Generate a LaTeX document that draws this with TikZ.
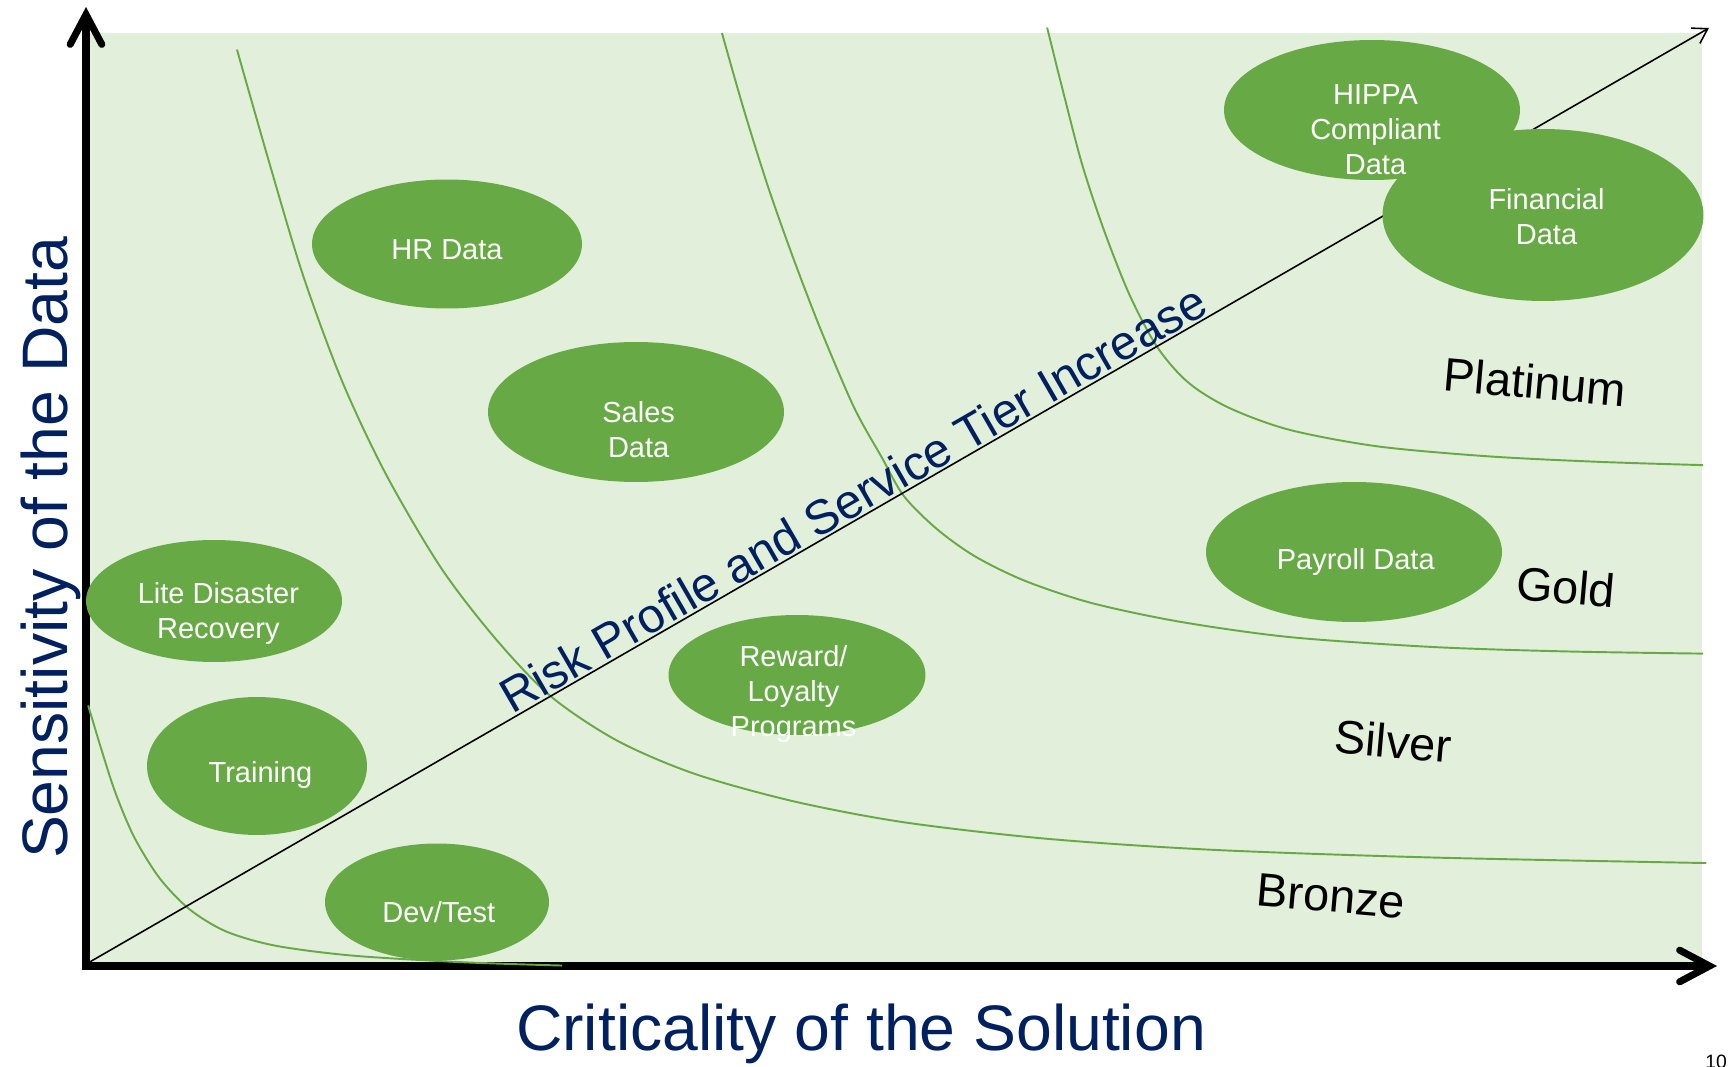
\documentclass[tikz,border=0pt]{standalone}
\usepackage{fontspec}
\setmainfont{Liberation Sans}
\usetikzlibrary{arrows.meta,shapes.geometric}

\definecolor{panelgreen}{RGB}{226,239,218}
\definecolor{blobgreen}{RGB}{103,170,69}
\definecolor{navy}{RGB}{0,32,96}

\begin{document}
\begin{tikzpicture}[x=0.02cm,y=-0.02cm,
  blob/.style={ellipse, fill=blobgreen, inner sep=0pt},
  blobtext/.style={text=white, font=\fontsize{16.5}{20}\selectfont, align=center, inner sep=0pt},
  tierline/.style={blobgreen, line width=1.1pt},
  axis/.style={line width=4pt, -{Straight Barb[length=17pt,width=18pt,line cap=round]}},
  tier/.style={font=\fontsize{26.7}{30}\selectfont, rotate=-5},
  axislabel/.style={text=navy, font=\fontsize{36.6}{40}\selectfont}]

\useasboundingbox (0,0) rectangle (1729,1067);
\fill[panelgreen] (88,33) rectangle (1702,962);

% axes
\coordinate (yfoot) at (86,970);
\coordinate (ytip) at (86,7);
\coordinate (xfoot) at (82,966);
\coordinate (xtip) at (1717,966);
\draw[axis] (yfoot) -- (ytip);
\draw[axis] (xfoot) -- (xtip);

% tier boundaries
\begin{scope}[x=0.022054cm,y=-0.022054cm]
\draw[tierline] plot[smooth] coordinates {(80,640) (92,680) (105,720) (122,760) (145,797) (172,825) (205,845) (250,858) (320,867) (420,873) (510,876)};
\draw[tierline] plot[smooth] coordinates {(215,45) (245,150) (275,250) (310,345) (350,430) (400,515) (450,580) (500,632) (560,672) (630,702) (720,727) (820,746) (950,761) (1100,771) (1300,778) (1548,783)};
\draw[tierline] plot[smooth] coordinates {(655,30) (675,100) (697,170) (720,235) (745,300) (775,370) (800,415) (820,450) (850,480) (885,505) (930,527) (990,547) (1070,564) (1170,578) (1300,587) (1420,591) (1545,593)};
\draw[tierline] plot[smooth] coordinates {(950,25) (965,85) (982,150) (1002,210) (1025,268) (1050,315) (1078,347) (1115,370) (1170,390) (1250,405) (1350,414) (1450,419) (1545,422)};
\end{scope}

% risk diagonal
\coordinate (o) at (88,963);
\coordinate (far) at (1709,28);
\draw[line width=0.9pt, -{Straight Barb[length=8pt,width=10pt]}] (o) -- node[pos=0.478, sloped, above, inner sep=1pt, text=navy, font=\fontsize{27.5}{30}\selectfont] {Risk Profile and Service Tier Increase} (far);

% data sets
\node[blob, minimum width=5.4cm, minimum height=2.58cm, label={[blobtext, yshift=-3pt]center:HR Data}] (hr) at (447,244) {};
\node[blob, minimum width=5.92cm, minimum height=2.8cm, label={[blobtext, yshift=-10pt, xshift=1.5pt]center:Sales\\Data}] (sales) at (636,412) {};
\node[blob, minimum width=5.12cm, minimum height=2.44cm, label={[blobtext, yshift=-7pt, xshift=2.5pt]center:Lite Disaster\\Recovery}] (lite) at (214,601) {};
\node[blob, minimum width=4.4cm, minimum height=2.76cm, label={[blobtext, yshift=-5pt, xshift=2pt]center:Training}] (train) at (257,766) {};
\node[blob, minimum width=4.48cm, minimum height=2.34cm, label={[blobtext, yshift=-6pt, xshift=1pt]center:Dev/Test}] (dev) at (437,902) {};
\node[blob, minimum width=5.14cm, minimum height=2.4cm, label={[blobtext, yshift=-11pt, xshift=-2pt]center:Reward/\\Loyalty\\Programs}] (reward) at (797,675) {};
\node[blob, minimum width=5.92cm, minimum height=2.8cm] (hippa) at (1372,110) {};
\node[blob, minimum width=6.42cm, minimum height=3.44cm, label={[blobtext, xshift=2pt, yshift=-1pt]center:Financial\\Data}] (fin) at (1543,215) {};
\node[blobtext, yshift=-11pt, xshift=2pt] (hippatext) at (hippa.center) {HIPPA\\Compliant\\Data};
\node[blob, minimum width=5.92cm, minimum height=2.8cm, label={[blobtext, yshift=-5.5pt, xshift=1pt]center:Payroll Data}] (pay) at (1354,552) {};

% tiers
\node[tier] (plat) at (1535,382) {Platinum};
\node[tier] (gold) at (1566,587) {Gold};
\node[tier] (silver) at (1393,741) {Silver};
\node[tier] (bronze) at (1331,896) {Bronze};

% axis titles
\node[axislabel, anchor=base] (xlab) at (861,1050) {Criticality of the Solution};
\node[axislabel, anchor=base, rotate=90] (ylab) at (68,548) {Sensitivity of the Data};

\node[font=\fontsize{11}{12}\selectfont, anchor=base] (page) at (1716,1068) {10};
\end{tikzpicture}
\end{document}
